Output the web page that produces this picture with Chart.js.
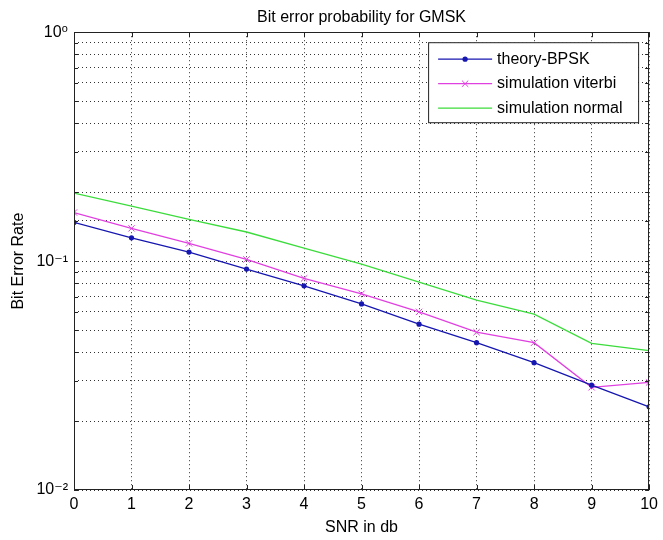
<!DOCTYPE html>
<html><head><meta charset="utf-8">
<script src="https://cdn.jsdelivr.net/npm/chart.js@4/dist/chart.umd.min.js"></script>
<style>html,body{margin:0;padding:0;background:#fff}#wrap{width:663px;height:540px}</style>
</head><body><div id="wrap"><canvas id="c" width="663" height="540"></canvas></div>
<script>
const snr = [0,1,2,3,4,5,6,7,8,9,10];
const theoryBPSK = [0.1476,0.1264,0.1095,0.0923,0.078,0.065,0.053,0.044,0.036,0.0287,0.0231];
const simViterbi = [0.163,0.139,0.1195,0.1017,0.084,0.072,0.060,0.0489,0.044,0.0281,0.0295];
const simNormal  = [0.198,0.174,0.152,0.134,0.114,0.097,0.081,0.0676,0.0587,0.0437,0.0406];
const seriesNames = ['theory-BPSK','simulation viterbi','simulation normal'];
const xTicks = [0,1,2,3,4,5,6,7,8,9,10];
const yTickValues = [0.01,0.1,1];
const yTickLabels = ['10\u207B\u00B2','10\u207B\u00B9','10\u2070'];
const titleText = 'Bit error probability for GMSK';
const xTitle = 'SNR in db';
const yTitle = 'Bit Error Rate';

const FONT = "'Liberation Sans', Arial, 'DejaVu Sans', sans-serif";
const colors = ['#1616b0','#e040e0','#3cdc3c'];

function pts(arr){ return snr.map((x,i)=>({x:x,y:arr[i]})); }

const frameAndLegend = {
  id:'frameAndLegend',
  afterDraw(chart){
    const ctx = chart.ctx, a = chart.chartArea;
    const xs = chart.scales.x, ys = chart.scales.y;
    ctx.save();
    ctx.strokeStyle = '#222'; ctx.lineWidth = 1; ctx.setLineDash([]);
    ctx.strokeRect(Math.round(a.left)+0.5, Math.round(a.top)+0.5, Math.round(a.right-a.left)-1, Math.round(a.bottom-a.top)-1);
    // inward tick marks
    ctx.beginPath();
    xTicks.forEach(v=>{
      const px = Math.round(xs.getPixelForValue(v))+0.5;
      ctx.moveTo(px, a.bottom); ctx.lineTo(px, a.bottom-5);
      ctx.moveTo(px, a.top); ctx.lineTo(px, a.top+5);
    });
    ys.ticks.forEach(t=>{
      const py = Math.round(ys.getPixelForValue(t.value))+0.5;
      ctx.moveTo(a.left, py); ctx.lineTo(a.left+4, py);
      ctx.moveTo(a.right, py); ctx.lineTo(a.right-4, py);
    });
    ctx.stroke();
    // legend
    const bx = a.right-221, by = a.top+10, bw = 210, bh = 80;
    ctx.fillStyle = '#fff';
    ctx.fillRect(bx, by, bw, bh);
    ctx.strokeStyle = '#222';
    ctx.strokeRect(bx+0.5, by+0.5, bw, bh);
    ctx.font = '16px ' + FONT;
    ctx.textBaseline = 'middle'; ctx.textAlign = 'left';
    chart.data.datasets.forEach((ds,i)=>{
      const cy = by + 17 + i*24.5;
      const x1 = bx+10, x2 = bx+64, mx = (x1+x2)/2;
      ctx.strokeStyle = ds.borderColor; ctx.lineWidth = 1.3;
      ctx.beginPath(); ctx.moveTo(x1,cy); ctx.lineTo(x2,cy); ctx.stroke();
      if (ds.pointStyle === 'circle' && ds.pointRadius>0){
        ctx.fillStyle = ds.borderColor; ctx.beginPath(); ctx.arc(mx,cy,ds.pointRadius,0,Math.PI*2); ctx.fill();
      } else if (ds.pointStyle === 'crossRot' && ds.pointRadius>0){
        const r = ds.pointRadius*0.7; ctx.lineWidth = 1;
        ctx.beginPath(); ctx.moveTo(mx-r,cy-r); ctx.lineTo(mx+r,cy+r); ctx.moveTo(mx-r,cy+r); ctx.lineTo(mx+r,cy-r); ctx.stroke();
      }
      ctx.fillStyle = '#000';
      ctx.fillText(ds.label, bx+69, cy);
    });
    ctx.restore();
  }
};

new Chart(document.getElementById('c'), {
  type:'line',
  data:{
    datasets:[
      {label:seriesNames[0], data:pts(theoryBPSK), borderColor:colors[0], backgroundColor:colors[0], borderWidth:1.3, pointStyle:'circle', pointRadius:2.6, pointBorderWidth:0, tension:0, fill:false},
      {label:seriesNames[1], data:pts(simViterbi), borderColor:colors[1], backgroundColor:colors[1], borderWidth:1.3, pointStyle:'crossRot', pointRadius:4.5, pointBorderWidth:1, tension:0, fill:false},
      {label:seriesNames[2], data:pts(simNormal), borderColor:colors[2], backgroundColor:colors[2], borderWidth:1.3, pointStyle:'circle', pointRadius:0, tension:0, fill:false}
    ]
  },
  options:{
    responsive:false, animation:false, devicePixelRatio:1,
    layout:{padding:{left:0,right:9,top:0,bottom:0}},
    plugins:{
      legend:{display:false}, tooltip:{enabled:false},
      title:{display:true, fullSize:false, text:titleText, color:'#000', font:{family:FONT,size:16,weight:'normal'}, padding:{top:8,bottom:5}}
    },
    scales:{
      x:{type:'linear', min:0, max:10,
        afterFit(s){ s.height = 50; },
        afterBuildTicks(s){ s.ticks = xTicks.map(v=>({value:v})); },
        ticks:{color:'#000', font:{family:FONT,size:16}, padding:5, autoSkip:false, maxRotation:0, callback:(v)=>String(v)},
        grid:{color:'#333', lineWidth:1, drawTicks:false},
        border:{display:false, dash:[1,3]},
        title:{display:true, text:xTitle, color:'#000', font:{family:FONT,size:16}, padding:{top:0,bottom:3}}
      },
      y:{type:'logarithmic', min:0.01, max:1,
        afterFit(s){ s.width = 74; },
        ticks:{color:'#000', font:{family:FONT,size:16}, padding:6, autoSkip:false,
          callback:(v)=>{ const k = yTickValues.findIndex(t=>Math.abs(t-v)/t<1e-6); return k>=0 ? yTickLabels[k] : ''; }},
        grid:{color:'#333', lineWidth:1, drawTicks:false},
        border:{display:false, dash:[1,3]},
        title:{display:true, text:yTitle, color:'#000', font:{family:FONT,size:16}, padding:{top:9,bottom:0}}
      }
    }
  },
  plugins:[frameAndLegend]
});
</script></body></html>
